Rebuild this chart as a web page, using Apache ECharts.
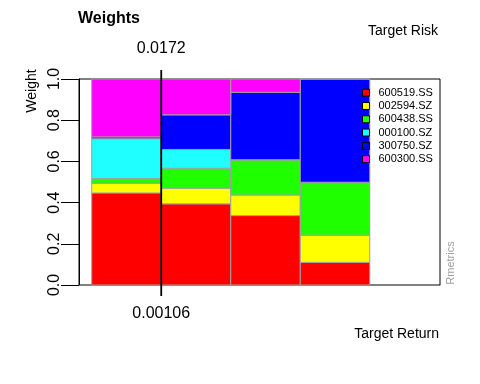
<!DOCTYPE html>
<html><head><meta charset="utf-8">
<script src="https://cdn.jsdelivr.net/npm/echarts@6/dist/echarts.min.js"></script>
<style>html,body{margin:0;padding:0;background:#fff}#c{width:480px;height:384px}</style>
</head><body><div id="c"></div>
<script>
const portfolios = [1, 2, 3, 4];
const assets = ['600519.SS', '002594.SZ', '600438.SS', '000100.SZ', '300750.SZ', '600300.SS'];
const w600519 = [0.447, 0.394, 0.337, 0.110];
const w002594 = [0.047, 0.076, 0.100, 0.132];
const w600438 = [0.023, 0.097, 0.171, 0.257];
const w000100 = [0.193, 0.091, 0.000, 0.000];
const w300750 = [0.009, 0.168, 0.327, 0.501];
const w600300 = [0.281, 0.174, 0.065, 0.000];
const yTicks = [0, 0.2, 0.4, 0.6, 0.8, 1.0];
const markerPos = 1.5;
const targetRiskLabel = '0.0172';
const targetReturnLabel = '0.00106';

const weights = [w600519, w002594, w600438, w000100, w300750, w600300];
const colors = ['#FF0000', '#FFFF00', '#20FF00', '#20FFFF', '#0000FF', '#FF00FF'];
const FONT = '"Liberation Sans", Arial, sans-serif';

// cumulative stacking table built from the arrays
const cum = portfolios.map(() => 0);
const series = assets.map((name, k) => {
  const data = portfolios.map((p, i) => {
    const base = cum[i];
    cum[i] += weights[k][i];
    return [p, base, cum[i]];
  });
  return {
    name, type: 'custom', clip: false,
    itemStyle: { color: colors[k] },
    encode: { x: 0, y: [1, 2] },
    data,
    renderItem: (params, api) => {
      const x = api.value(0);
      const half = api.size([1, 0])[0] / 2;
      const p0 = api.coord([x, api.value(1)]);
      const p1 = api.coord([x, api.value(2)]);
      return { type: 'rect',
        shape: { x: p0[0] - half, y: p1[1], width: half * 2, height: p0[1] - p1[1] },
        style: { fill: colors[k], stroke: '#a0a0a0', lineWidth: 1 } };
    }
  };
});
series.push({
  type: 'custom', silent: true, clip: false, z: 10,
  data: [[markerPos]],
  renderItem: (params, api) => {
    const top = api.coord([api.value(0), 1]);
    const bot = api.coord([api.value(0), 0]);
    return { type: 'group', children: [
      { type: 'line', shape: { x1: top[0], y1: top[1] - 9, x2: bot[0], y2: bot[1] + 11 },
        style: { stroke: '#000', lineWidth: 1.8 } },
      { type: 'text', style: { text: targetRiskLabel, x: top[0], y: top[1] - 30, align: 'center', verticalAlign: 'middle',
        font: '16px ' + FONT, fill: '#000' } },
      { type: 'text', style: { text: targetReturnLabel, x: bot[0], y: bot[1] + 29, align: 'center', verticalAlign: 'middle',
        font: '16px ' + FONT, fill: '#000' } }
    ]};
  }
});

const chart = echarts.init(document.getElementById('c'));
chart.setOption({
  animation: false,
  backgroundColor: '#fff',
  title: { text: 'Weights', left: 78, top: 11, padding: 0,
    textStyle: { fontFamily: FONT, fontSize: 16, fontWeight: 'bold', color: '#000' } },
  legend: {
    orient: 'vertical', left: 357, top: 81, itemWidth: 7, itemHeight: 7, itemGap: 0,
    icon: 'rect', data: assets, selectedMode: false,
    itemStyle: { borderColor: '#000', borderWidth: 1 },
    textStyle: { fontFamily: FONT, fontSize: 11, color: '#000', lineHeight: 13.3, padding: [0, 0, 0, 4] }
  },
  grid: { left: 79, right: 40, top: 79, bottom: 99, show: true, borderColor: '#000', borderWidth: 1, backgroundColor: 'transparent' },
  xAxis: { type: 'value', min: 0.317, max: 5.51,
    axisLine: { show: true, lineStyle: { color: '#808080' } }, axisTick: { show: false },
    axisLabel: { show: false }, splitLine: { show: false } },
  yAxis: { type: 'value', min: 0, max: 1, interval: 0.2,
    axisLine: { show: true, lineStyle: { color: '#000' } },
    axisTick: { show: true, length: 18, lineStyle: { color: '#000' } },
    axisLabel: { rotate: 90, margin: 16, fontFamily: FONT, fontSize: 16, color: '#000',
      alignMinLabel: 'center', alignMaxLabel: 'center',
      formatter: v => v.toFixed(1) },
    splitLine: { show: false } },
  graphic: [
    { type: 'text', right: 42, top: 24, style: { text: 'Target Risk', font: '14px ' + FONT, fill: '#000' } },
    { type: 'text', right: 41, top: 327, style: { text: 'Target Return', font: '14px ' + FONT, fill: '#000' } },
    { type: 'text', x: 32, y: 91, rotation: Math.PI / 2,
      style: { text: 'Weight', font: '14px ' + FONT, fill: '#000', align: 'center', verticalAlign: 'middle' } },
    { type: 'text', x: 451, y: 263, rotation: Math.PI / 2,
      style: { text: 'Rmetrics', font: '11px ' + FONT, fill: '#a0a0a0', align: 'center', verticalAlign: 'middle' } }
  ],
  series
});
</script></body></html>
